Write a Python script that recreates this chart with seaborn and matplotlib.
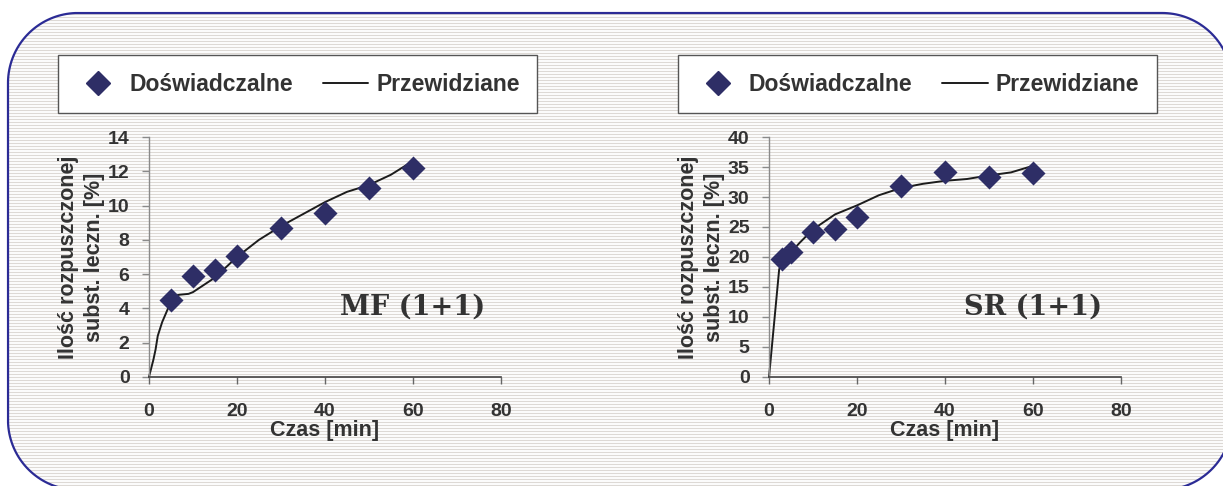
import numpy as np
import matplotlib
matplotlib.use("Agg")
import matplotlib.pyplot as plt
from matplotlib.patches import Polygon
from matplotlib.lines import Line2D
import seaborn as sns

# Measured dissolution (experimental points)
czas_mf = [5, 10, 15, 20, 30, 40, 50, 60]
dosw_mf = [4.5, 5.87, 6.27, 7.05, 8.71, 9.54, 11.02, 12.2]

czas_sr = [3, 5, 10, 15, 20, 30, 40, 50, 60]
dosw_sr = [19.7, 20.9, 24.2, 24.6, 26.6, 31.9, 34.2, 33.3, 34.0]

# Model prediction curves
pred_t_mf = [0, 1, 1.5, 2, 3, 4, 5, 6, 7, 9, 10, 15, 20, 25, 30, 35, 40, 45, 50, 55, 60]
pred_mf = [0, 1.0, 1.6, 2.4, 3.2, 3.8, 4.4, 4.75, 4.8, 4.85, 4.95, 5.8, 7.0, 8.0, 8.8,
           9.5, 10.2, 10.8, 11.2, 11.8, 12.6]

pred_t_sr = [0, 2.3, 3, 5, 7, 10, 15, 20, 25, 30, 35, 40, 45, 50, 55, 60]
pred_sr = [0, 17.9, 19.5, 20.8, 22.4, 24.6, 27.1, 28.6, 30.3, 31.5, 32.2, 32.7, 33.0,
           33.6, 34.1, 35.2]

x_ticks = [0, 20, 40, 60, 80]
y_ticks_mf = [0, 2, 4, 6, 8, 10, 12, 14]
y_ticks_sr = [0, 5, 10, 15, 20, 25, 30, 35, 40]

legend_labels = ["Doświadczalne", "Przewidziane"]
x_label = "Czas [min]"
y_label = "Ilość rozpuszczonej\nsubst. leczn. [%]"
titles = ["MF (1+1)", "SR (1+1)"]

sns.set_style("ticks")
plt.rcParams["font.family"] = ["Liberation Sans", "DejaVu Sans"]
plt.rcParams["font.weight"] = "bold"
plt.rcParams["axes.labelweight"] = "bold"

W, H = 1223, 486
fig = plt.figure(figsize=(W / 100, H / 100), dpi=100)
fig.patch.set_facecolor("white")


def rounded_rect(x0, y0, w, h, r, n=40):
    """Vertices of a rectangle with circular corners, counter-clockwise."""
    x1, y1 = x0 + w, y0 + h
    pts = []
    corners = [((x1 - r, y0 + r), -90), ((x1 - r, y1 - r), 0),
               ((x0 + r, y1 - r), 90), ((x0 + r, y0 + r), 180)]
    for (cx, cy), start in corners:
        a = np.radians(np.linspace(start, start + 90, n))
        pts.append(np.column_stack([cx + r * np.cos(a), cy + r * np.sin(a)]))
    return np.vstack(pts)


# Striped rounded panel behind both charts (pixel coordinates, origin bottom-left)
bg = fig.add_axes([0, 0, 1, 1], zorder=0)
bg.set_xlim(0, W)
bg.set_ylim(0, H)
bg.axis("off")
verts = rounded_rect(8, H - 490, 1224, 477, 70)
panel = Polygon(verts, closed=True, facecolor="white", edgecolor="none")
bg.add_patch(panel)
ys = np.arange(1, H - 13, 3)
stripes = bg.hlines(ys, 0, W, colors="#ddd9d5", linewidth=0.85)
stripes.set_clip_path(panel)
loop = np.vstack([verts, verts[:1]])
bg.plot(loop[:, 0], loop[:, 1], color="#2b2b95", linewidth=1.6,
        solid_joinstyle="round")

text_col = "#333333"
marker_col = "#2e2e66"
line_col = "#1c1c1c"

panels = [
    (czas_mf, dosw_mf, pred_t_mf, pred_mf, y_ticks_mf, 14, 0.1218, 0.2433, titles[0]),
    (czas_sr, dosw_sr, pred_t_sr, pred_sr, y_ticks_sr, 40, 0.6288, 0.7498, titles[1]),
]

for (tx, vx, tp, vp, yt, ymax, left, leg_x, title) in panels:
    ax = fig.add_axes([left, 0.2243, 0.2878, 0.4938], zorder=1)
    ax.set_facecolor("none")
    sns.lineplot(x=tp, y=vp, ax=ax, color=line_col, linewidth=1.4, clip_on=False)
    sns.scatterplot(x=tx, y=vx, ax=ax, marker="D", s=150, color=marker_col,
                    edgecolor=marker_col, linewidth=0, zorder=3, clip_on=False)
    ax.set_xlim(0, 80)
    ax.set_ylim(0, ymax)
    ax.set_xticks(x_ticks)
    ax.set_yticks(yt)
    sns.despine(ax=ax)
    ax.spines["left"].set_color("#8a8a8a")
    ax.spines["bottom"].set_color("#444444")
    ax.spines["left"].set_linewidth(1.0)
    ax.spines["bottom"].set_linewidth(1.2)
    ax.tick_params(axis="x", direction="out", length=5, width=1, color="#666666",
                   labelsize=14, labelcolor=text_col, pad=14)
    ax.tick_params(axis="y", direction="out", length=5, width=1, color="#8a8a8a",
                   labelsize=14, labelcolor=text_col, pad=9)
    ax.set_xlabel(x_label, fontsize=15.5, color=text_col, labelpad=0, fontweight="bold")
    ax.set_ylabel(y_label, fontsize=15.5, color=text_col, labelpad=2, linespacing=1.3,
                  fontweight="bold")
    ax.text(0.75, 0.29, title, transform=ax.transAxes, ha="center", va="center",
            fontsize=19.5, family="DejaVu Serif", fontweight="bold", color=text_col)

    handles = [
        Line2D([], [], linestyle="none", marker="D", markersize=12, color=marker_col),
        Line2D([], [], color=line_col, linewidth=1.4),
    ]
    leg = ax.legend(handles, legend_labels, loc="center", bbox_to_anchor=(leg_x, 0.827),
                    bbox_transform=fig.transFigure, ncol=2, fontsize=16.5, frameon=True,
                    fancybox=False, framealpha=1, facecolor="white", edgecolor="#555555",
                    handlelength=2.0, handletextpad=0.35, columnspacing=1.3,
                    borderpad=0.75, borderaxespad=0)
    leg.get_frame().set_linewidth(1.0)
    for t in leg.get_texts():
        t.set_color(text_col)
        t.set_fontweight("bold")

fig.savefig("out.png", dpi=100)
